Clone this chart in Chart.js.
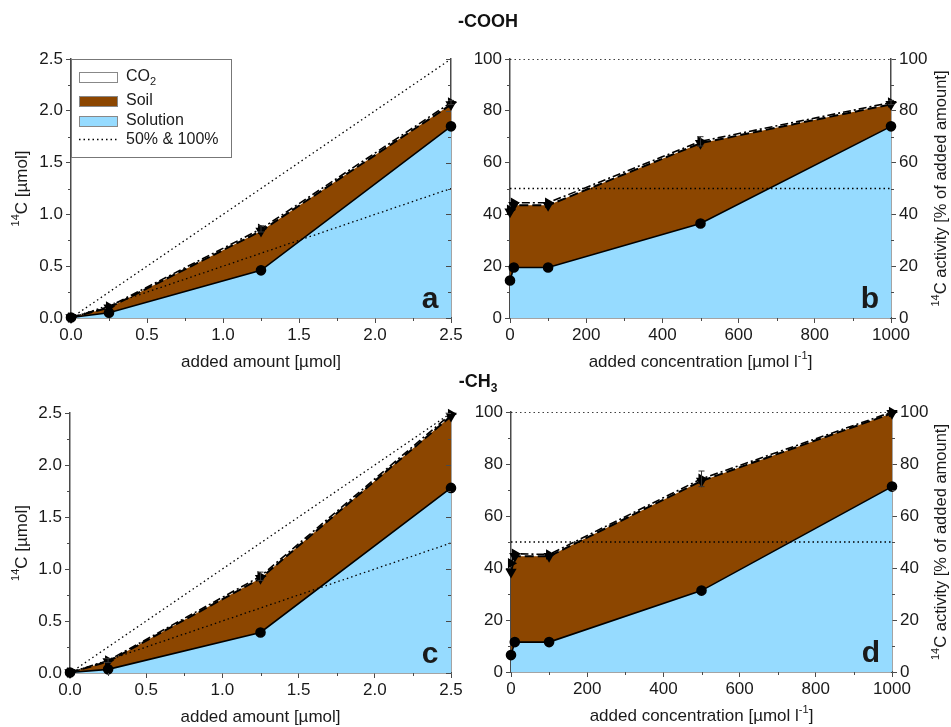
<!DOCTYPE html>
<html><head><meta charset="utf-8">
<script src="https://cdn.jsdelivr.net/npm/chart.js@4"></script>
<style>
html,body{margin:0;padding:0;background:#fff;}
#wrap{position:relative;width:951px;height:727px;overflow:hidden;background:#fff;}
canvas{position:absolute;left:0;top:0;}
.ttl{position:absolute;font:bold 18px "Liberation Sans",Arial,sans-serif;color:#111;transform:translate(-50%,-50%);white-space:nowrap;}
.ttl span{font-size:12px;position:relative;top:5px;}
</style></head><body>
<div id="wrap">
<canvas id="ca" width="951" height="727"></canvas>
<canvas id="cb" width="951" height="727"></canvas>
<canvas id="cc" width="951" height="727"></canvas>
<canvas id="cd" width="951" height="727"></canvas>
<div class="ttl" style="left:488px;top:21px">-COOH</div>
<div class="ttl" style="left:478px;top:381px">-CH<span>3</span></div>
</div>
<script>
// ---- data ----
const xAmount = [0, 0.25, 1.25, 2.5];          // added amount [µmol]
const xConc = [0, 10, 100, 500, 1000];         // added concentration [µmol l-1]

// panel a (-COOH, µmol)
const aSolution = [0.005, 0.05, 0.46, 1.85];
const aSoil     = [0.005, 0.10, 0.84, 2.06];
const aCO2      = [0.005, 0.11, 0.86, 2.08];
const aCO2Err   = [0, 0, 0.03, 0.02];
// panel b (-COOH, %)
const bSolution = [14.5, 19.5, 19.5, 36.5, 74];
const bSoil     = [41, 43.5, 43.5, 67.5, 82.5];
const bCO2      = [41.8, 44.5, 44.5, 68.2, 83.2];
const bCO2Err   = [0, 0, 0, 1.8, 0.8];
// panel c (-CH3, µmol)
const cSolution = [0.005, 0.035, 0.39, 1.78];
const cSoil     = [0.005, 0.11, 0.91, 2.47];
const cCO2      = [0.005, 0.12, 0.93, 2.49];
const cCO2Err   = [0, 0.02, 0.04, 0];
// panel d (-CH3, %)
const dSolution = [6.5, 11.5, 11.5, 31.3, 71.3];
const dSoil     = [38.5, 44.5, 44.5, 73.5, 99.5];
const dCO2      = [41.8, 45.5, 45.2, 74.3, 100];
const dCO2Err   = [0, 0, 0, 3, 0];

// reference lines (50% and 100% of added amount)
const refAmountX = [0, 2.5];
const ref100Amount = [0, 2.5];
const ref50Amount = [0, 1.25];
const refConcX = [0, 1000];
const ref100Conc = [100, 100];
const ref50Conc = [50, 50];

// tick labels
const amountTicks = [0, 0.5, 1.0, 1.5, 2.0, 2.5];
const concTicks = [0, 200, 400, 600, 800, 1000];
const percentTicks = [0, 20, 40, 60, 80, 100];

// ---- drawing ----
const FONT = '"Liberation Sans", Arial, sans-serif';
const BLUE = '#96dbff', BROWN = '#8c4600', AXIS = '#4a4a4a', TXT = '#1a1a1a';
const W = 951, H = 727;
const FS = 17;

function pts(xs, ys) { return xs.map((x, i) => ({ x: x, y: ys[i] })); }

function drawRich(ctx, parts, x, y, size, rot) {
  ctx.save();
  ctx.translate(x, y);
  ctx.rotate(rot || 0);
  ctx.fillStyle = TXT;
  ctx.textBaseline = 'middle';
  ctx.textAlign = 'left';
  let total = 0;
  const widths = parts.map(p => {
    ctx.font = (p.sup || p.sub ? Math.round(size * 0.65) : size) + 'px ' + FONT;
    const w = ctx.measureText(p.t).width; total += w; return w;
  });
  let cx = -total / 2;
  parts.forEach((p, i) => {
    ctx.font = (p.sup || p.sub ? Math.round(size * 0.65) : size) + 'px ' + FONT;
    const dy = p.sup ? -size * 0.33 : (p.sub ? size * 0.3 : 0);
    ctx.fillText(p.t, cx, dy);
    cx += widths[i];
  });
  ctx.restore();
}

const decoPlugin = {
  id: 'deco',
  afterDatasetsDraw(chart) {
    const ctx = chart.ctx;
    const xs = chart.scales.x, ys = chart.scales.y;
    chart.data.datasets.forEach(d => {
      if (!d.errors) return;
      d.errors.forEach((e, j) => {
        if (!e) return;
        const pt = d.data[j];
        const px = xs.getPixelForValue(pt.x);
        const t = ys.getPixelForValue(pt.y + e), b = ys.getPixelForValue(pt.y - e);
        ctx.save();
        ctx.strokeStyle = '#333'; ctx.lineWidth = 1;
        ctx.beginPath();
        ctx.moveTo(px, t); ctx.lineTo(px, b);
        ctx.moveTo(px - 3, t); ctx.lineTo(px + 3, t);
        ctx.moveTo(px - 3, b); ctx.lineTo(px + 3, b);
        ctx.stroke();
        ctx.restore();
      });
    });
  },
  afterDraw(chart, args, opts) {
    const ctx = chart.ctx;
    const ca = chart.chartArea;
    const xs = chart.scales.x, ys = chart.scales.y;
    const xt = opts.xTicks, yt = opts.yTicks;
    ctx.save();
    ctx.strokeStyle = AXIS; ctx.lineWidth = 1;
    ctx.beginPath();
    for (let i = 0; i < xt.length - 1; i++) {
      const px = Math.round(xs.getPixelForValue((xt[i] + xt[i + 1]) / 2)) + 0.5;
      ctx.moveTo(px, ca.bottom); ctx.lineTo(px, ca.bottom + 3);
    }
    for (let i = 0; i < yt.length - 1; i++) {
      const py = Math.round(ys.getPixelForValue((yt[i] + yt[i + 1]) / 2)) + 0.5;
      ctx.moveTo(ca.left, py); ctx.lineTo(ca.left - 3, py);
      if (opts.rightLabels) { ctx.moveTo(ca.right, py); ctx.lineTo(ca.right + 3, py); }
      else { ctx.moveTo(ca.right, py); ctx.lineTo(ca.right - 3, py); }
    }
    if (!opts.rightLabels) {
      yt.forEach(v => {
        const py = Math.round(ys.getPixelForValue(v)) + 0.5;
        ctx.moveTo(ca.right, py); ctx.lineTo(ca.right - 5, py);
      });
    }
    ctx.stroke();
    ctx.restore();

    ctx.save();
    ctx.font = 'bold 30px ' + FONT;
    ctx.fillStyle = TXT;
    ctx.textAlign = 'center';
    ctx.textBaseline = 'alphabetic';
    ctx.fillText(opts.letter, ca.right - 21, ca.bottom - 10);
    ctx.restore();

    drawRich(ctx, opts.xTitle, (ca.left + ca.right) / 2, ca.bottom + 44, FS, 0);
    if (opts.yTitle) drawRich(ctx, opts.yTitle, 22, (ca.top + ca.bottom) / 2, FS, -Math.PI / 2);
    if (opts.rTitle) drawRich(ctx, opts.rTitle, 941, (ca.top + ca.bottom) / 2, 16.5, -Math.PI / 2);

    if (opts.legend) {
      const L = ca.left, T = ca.top;
      ctx.save();
      ctx.fillStyle = '#fff';
      ctx.fillRect(L, T, 160, 98);
      ctx.strokeStyle = '#777'; ctx.lineWidth = 1;
      ctx.strokeRect(L + 0.5, T + 0.5, 160, 98);
      const sw = [[13, '#fff'], [37, BROWN], [57, BLUE]];
      sw.forEach(s => {
        ctx.fillStyle = s[1];
        ctx.fillRect(L + 8, T + s[0], 38, 10);
        ctx.strokeStyle = '#888';
        ctx.strokeRect(L + 8.5, T + s[0] + 0.5, 38, 10);
      });
      ctx.strokeStyle = '#000'; ctx.lineWidth = 1.3;
      ctx.setLineDash([1.5, 3]);
      ctx.beginPath(); ctx.moveTo(L + 8, T + 80.5); ctx.lineTo(L + 46, T + 80.5); ctx.stroke();
      ctx.setLineDash([]);
      ctx.fillStyle = TXT;
      ctx.font = '16px ' + FONT;
      ctx.textBaseline = 'middle';
      ctx.textAlign = 'left';
      const tx = L + 55;
      ctx.fillText('CO', tx, T + 18);
      const cw = ctx.measureText('CO').width;
      ctx.font = '11px ' + FONT;
      ctx.fillText('2', tx + cw, T + 23);
      ctx.font = '16px ' + FONT;
      ctx.fillText('Soil', tx, T + 42);
      ctx.fillText('Solution', tx, T + 62);
      ctx.fillText('50% & 100%', tx, T + 81);
      ctx.restore();
    }
  }
};

function makePanel(id, p) {
  const dotted = { fill: false, borderColor: '#000', borderWidth: 1.3, borderDash: [1.5, 3], pointRadius: 0, tension: 0 };
  const datasets = [
    { label: 'Solution', data: pts(p.x, p.solution), fill: 'origin', backgroundColor: BLUE, borderColor: '#000',
      borderWidth: 1.6, pointRadius: 4.5, pointBackgroundColor: '#000', pointBorderColor: '#000', pointStyle: 'circle', tension: 0, clip: false },
    { label: 'Soil', data: pts(p.x, p.soil), fill: '-1', backgroundColor: BROWN, borderColor: '#000',
      borderWidth: 2, borderDash: [9, 4], pointStyle: 'triangle', pointRotation: 180, pointRadius: 4.5,
      pointBackgroundColor: '#000', pointBorderColor: '#000', tension: 0, clip: false },
    { label: 'CO2', data: pts(p.x, p.co2), fill: '-1', backgroundColor: '#fff', borderColor: '#000',
      borderWidth: 1.6, borderDash: [8, 3, 2, 3], pointStyle: 'triangle', pointRotation: 90, pointRadius: 4.5,
      pointBackgroundColor: '#000', pointBorderColor: '#000', tension: 0, clip: false, errors: p.co2Err },
    Object.assign({ label: '100%', data: pts(p.refX, p.ref100) }, dotted),
    Object.assign({ label: '50%', data: pts(p.refX, p.ref50) }, dotted)
  ];
  const tickFont = { family: FONT, size: FS };
  const grid = { drawOnChartArea: false, drawTicks: true, tickLength: 5, color: AXIS, lineWidth: 1 };
  const border = { display: true, color: AXIS, width: 1.5 };
  const a = p.area;
  new Chart(document.getElementById(id), {
    type: 'line',
    data: { datasets: datasets },
    options: {
      responsive: false, animation: false, devicePixelRatio: 1,
      layout: { padding: { top: a.t, left: 0, right: 0, bottom: 0 } },
      plugins: { legend: { display: false }, tooltip: { enabled: false },
        filler: { drawTime: 'beforeDatasetsDraw' },
        deco: { xTicks: p.xTicks, yTicks: p.yTicks, rightLabels: p.rightLabels, letter: p.letter,
          xTitle: p.xTitle, yTitle: p.yTitle, rTitle: p.rTitle, legend: p.legend } },
      scales: {
        x: { type: 'linear', min: 0, max: p.xTicks[p.xTicks.length - 1],
          afterBuildTicks: s => { s.ticks = p.xTicks.map(v => ({ value: v })); },
          afterFit: s => { s.height = H - a.b; },
          ticks: { font: tickFont, color: TXT, padding: 2, maxRotation: 0, autoSkip: false, callback: p.fmt },
          grid: grid, border: border },
        y: { type: 'linear', position: 'left', min: 0, max: p.yTicks[p.yTicks.length - 1],
          afterBuildTicks: s => { s.ticks = p.yTicks.map(v => ({ value: v })); },
          afterFit: s => { s.width = a.l; },
          ticks: { font: tickFont, color: TXT, padding: 3, callback: p.yfmt },
          grid: grid, border: border },
        y2: { type: 'linear', position: 'right', min: 0, max: p.yTicks[p.yTicks.length - 1],
          afterBuildTicks: s => { s.ticks = p.yTicks.map(v => ({ value: v })); },
          afterFit: s => { s.width = W - a.r; },
          ticks: { display: p.rightLabels, font: tickFont, color: TXT, padding: 3, callback: p.yfmt },
          grid: Object.assign({}, grid, { drawTicks: p.rightLabels }), border: border }
      }
    },
    plugins: [decoPlugin]
  });
}

const f1 = v => Number(v).toFixed(1);
const f0 = v => String(v);
const amountTitle = [{ t: 'added amount [µmol]' }];
const concTitle = [{ t: 'added concentration [µmol l' }, { t: '-1', sup: true }, { t: ']' }];
const yTitleAmt = [{ t: '14', sup: true }, { t: 'C [µmol]' }];
const rTitlePct = [{ t: '14', sup: true }, { t: 'C activity [% of added amount]' }];

makePanel('ca', { x: xAmount, solution: aSolution, soil: aSoil, co2: aCO2, co2Err: aCO2Err,
  refX: refAmountX, ref100: ref100Amount, ref50: ref50Amount, xTicks: amountTicks, yTicks: amountTicks,
  fmt: f1, yfmt: f1, rightLabels: false, letter: 'a', xTitle: amountTitle, yTitle: yTitleAmt, legend: true,
  area: { l: 71, r: 451, t: 59, b: 318 } });
makePanel('cb', { x: xConc, solution: bSolution, soil: bSoil, co2: bCO2, co2Err: bCO2Err,
  refX: refConcX, ref100: ref100Conc, ref50: ref50Conc, xTicks: concTicks, yTicks: percentTicks,
  fmt: f0, yfmt: f0, rightLabels: true, letter: 'b', xTitle: concTitle, rTitle: rTitlePct,
  area: { l: 510, r: 891, t: 59, b: 318 } });
makePanel('cc', { x: xAmount, solution: cSolution, soil: cSoil, co2: cCO2, co2Err: cCO2Err,
  refX: refAmountX, ref100: ref100Amount, ref50: ref50Amount, xTicks: amountTicks, yTicks: amountTicks,
  fmt: f1, yfmt: f1, rightLabels: false, letter: 'c', xTitle: amountTitle, yTitle: yTitleAmt,
  area: { l: 70, r: 451, t: 413, b: 673 } });
makePanel('cd', { x: xConc, solution: dSolution, soil: dSoil, co2: dCO2, co2Err: dCO2Err,
  refX: refConcX, ref100: ref100Conc, ref50: ref50Conc, xTicks: concTicks, yTicks: percentTicks,
  fmt: f0, yfmt: f0, rightLabels: true, letter: 'd', xTitle: concTitle, rTitle: rTitlePct,
  area: { l: 511, r: 892, t: 412, b: 672 } });
</script>
</body></html>
